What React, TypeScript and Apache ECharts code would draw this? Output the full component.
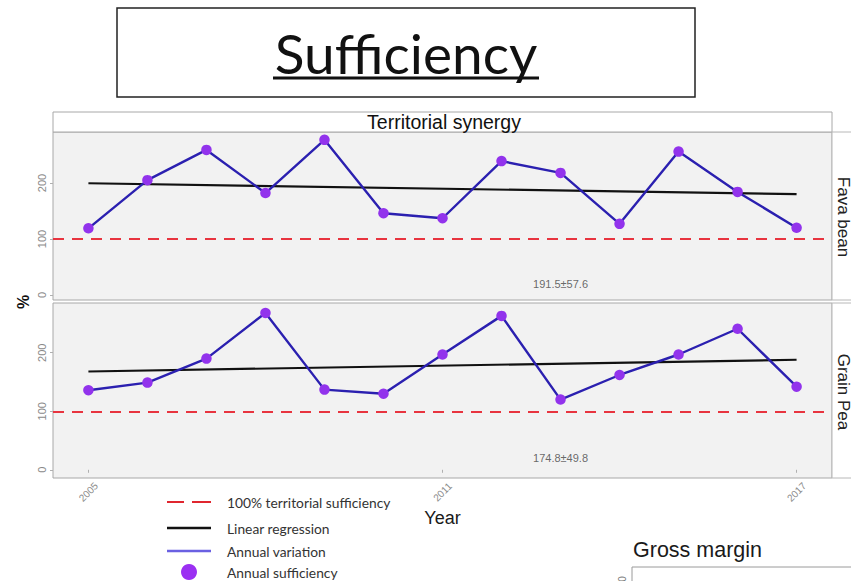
import React, { useEffect, useRef } from "react";
import * as echarts from "echarts";

const years = [2005, 2006, 2007, 2008, 2009, 2010, 2011, 2012, 2013, 2014, 2015, 2016, 2017];
const favaBean = [119, 205, 259, 182, 277, 146, 137, 239, 218, 127, 256, 184, 120];
const grainPea = [136, 149, 190, 268, 137, 130, 197, 263, 120, 162, 197, 241, 142];
const trendYears = [2005, 2017];
const favaTrend = [199.5, 180];
const peaTrend = [168, 188];
const threshold = 100;
const xTickLabels = [2005, 2011, 2017];
const yTickLabels = [0, 100, 200];
const annotationYear = 2013;
const annotationValue = 20;
const favaSummary = "191.5±57.6";
const peaSummary = "174.8±49.8";
const panelNames = ["Fava bean", "Grain Pea"];
const legendLabels = [
  "100% territorial sufficiency",
  "Linear regression",
  "Annual variation",
  "Annual sufficiency",
];

const FONT = "Liberation Sans, Arial, sans-serif";
const LEG_FONT = "Lato, 'Open Sans', sans-serif";

export default function App() {
  const ref = useRef<HTMLDivElement>(null);
  useEffect(() => {
    if (!ref.current) return;
    const chart = echarts.init(ref.current, undefined, { renderer: "svg" });

    const grids = [
      { left: 53, top: 132, width: 779, height: 168 },
      { left: 53, top: 303, width: 779, height: 175 },
    ];
    const yRanges = [
      [-9, 291],
      [-14, 285],
    ];

    const xAxes = grids.map((_, i) => ({
      type: "value",
      gridIndex: i,
      min: 2004.4,
      max: 2017.6,
      splitLine: { show: false },
      axisLine: { show: false },
      axisTick: {
        show: i === 1,
        length: 3,
        lineStyle: { color: "#b0b0b0" },
        customValues: xTickLabels,
      },
      axisLabel: {
        show: i === 1,
        customValues: xTickLabels,
        rotate: 45,
        align: "center",
        verticalAlign: "middle",
        margin: 14,
        fontSize: 10,
        color: "#8a8a8a",
        fontFamily: FONT,
        formatter: (v: number) => String(Math.round(v)),
      },
      name: i === 1 ? "Year" : "",
      nameLocation: "middle",
      nameGap: 31,
      nameTextStyle: { fontSize: 18, color: "#1a1a1a", fontFamily: FONT },
    }));

    const yAxes = grids.map((_, i) => ({
      type: "value",
      gridIndex: i,
      min: yRanges[i][0],
      max: yRanges[i][1],
      splitLine: { show: false },
      axisLine: { show: false },
      axisTick: {
        show: true,
        length: 3,
        lineStyle: { color: "#b0b0b0" },
        customValues: yTickLabels,
      },
      axisLabel: {
        customValues: yTickLabels,
        rotate: 90,
        align: "center",
        verticalAlign: "middle",
        margin: 11,
        fontSize: 11,
        color: "#8a8a8a",
        fontFamily: FONT,
      },
    }));

    const panelData = [
      { values: favaBean, trend: favaTrend, summary: favaSummary },
      { values: grainPea, trend: peaTrend, summary: peaSummary },
    ];

    const series: any[] = [];
    panelData.forEach((p, i) => {
      series.push({
        type: "line",
        xAxisIndex: i,
        yAxisIndex: i,
        data: [],
        markLine: {
          silent: true,
          symbol: "none",
          label: { show: false },
          lineStyle: { color: "#e8343f", width: 2.2, type: [11, 8] },
          data: [{ yAxis: threshold }],
        },
      });
      series.push({
        type: "line",
        xAxisIndex: i,
        yAxisIndex: i,
        data: trendYears.map((y, k) => [y, p.trend[k]]),
        symbol: "none",
        lineStyle: { color: "#111111", width: 2.2 },
      });
      series.push({
        type: "line",
        xAxisIndex: i,
        yAxisIndex: i,
        data: years.map((y, k) => [y, p.values[k]]),
        symbol: "circle",
        symbolSize: 10.5,
        itemStyle: { color: "#9233ec" },
        lineStyle: { color: "#2b20b0", width: 2.4 },
      });
      series.push({
        type: "scatter",
        xAxisIndex: i,
        yAxisIndex: i,
        data: [[annotationYear, annotationValue]],
        symbolSize: 0,
        label: {
          show: true,
          position: "inside",
          formatter: () => p.summary,
          fontSize: 11,
          color: "#444",
          fontFamily: FONT,
        },
      });
    });

    const legendY = [502, 528, 551, 572];
    const graphic: any[] = [
      // title box
      {
        type: "rect",
        shape: { x: 117, y: 8, width: 578, height: 89 },
        style: { fill: "#fff", stroke: "#222", lineWidth: 1.5 },
      },
      {
        type: "text",
        x: 406,
        y: 53,
        style: {
          text: "Sufficiency",
          font: `55px ${LEG_FONT}`,
          fill: "#111",
          align: "center",
          verticalAlign: "middle",
        },
      },
      {
        type: "line",
        shape: { x1: 273, y1: 78, x2: 539, y2: 78 },
        style: { stroke: "#111", lineWidth: 3 },
      },
      // top strip
      {
        type: "rect",
        shape: { x: 53, y: 112, width: 779, height: 20 },
        style: { fill: "#fff", stroke: "#a8a8a8", lineWidth: 1 },
      },
      {
        type: "text",
        x: 444,
        y: 122,
        style: {
          text: "Territorial synergy",
          font: `19.5px ${FONT}`,
          fill: "#111",
          align: "center",
          verticalAlign: "middle",
        },
      },
      // right strips
      {
        type: "rect",
        shape: { x: 832, y: 132, width: 30, height: 168 },
        style: { fill: "#fff", stroke: "#b8b8b8", lineWidth: 1 },
      },
      {
        type: "rect",
        shape: { x: 832, y: 303, width: 30, height: 175 },
        style: { fill: "#fff", stroke: "#b8b8b8", lineWidth: 1 },
      },
      {
        type: "text",
        x: 843,
        y: 217,
        rotation: -Math.PI / 2,
        style: {
          text: panelNames[0],
          font: `17px ${FONT}`,
          fill: "#222",
          align: "center",
          verticalAlign: "middle",
        },
      },
      {
        type: "text",
        x: 843,
        y: 392,
        rotation: -Math.PI / 2,
        style: {
          text: panelNames[1],
          font: `17px ${FONT}`,
          fill: "#222",
          align: "center",
          verticalAlign: "middle",
        },
      },
      // y axis title
      {
        type: "text",
        x: 23,
        y: 302,
        rotation: Math.PI / 2,
        style: {
          text: "%",
          font: `bold 16px ${FONT}`,
          fill: "#111",
          align: "center",
          verticalAlign: "middle",
        },
      },
      // legend
      {
        type: "line",
        shape: { x1: 167, y1: legendY[0], x2: 184, y2: legendY[0] },
        style: { stroke: "#e0262f", lineWidth: 2 },
      },
      {
        type: "line",
        shape: { x1: 192, y1: legendY[0], x2: 211, y2: legendY[0] },
        style: { stroke: "#e0262f", lineWidth: 2 },
      },
      {
        type: "line",
        shape: { x1: 167, y1: legendY[1], x2: 211, y2: legendY[1] },
        style: { stroke: "#111", lineWidth: 2.6 },
      },
      {
        type: "line",
        shape: { x1: 167, y1: legendY[2], x2: 211, y2: legendY[2] },
        style: { stroke: "#6a60e2", lineWidth: 2.4 },
      },
      {
        type: "circle",
        shape: { cx: 189, cy: legendY[3], r: 8 },
        style: { fill: "#9b30f2" },
      },
      ...legendLabels.map((t, k) => ({
        type: "text",
        x: 227,
        y: legendY[k],
        style: {
          text: t,
          font: `13.8px ${LEG_FONT}`,
          fill: "#333",
          align: "left",
          verticalAlign: "middle",
        },
      })),
      // gross margin fragment
      {
        type: "text",
        x: 633,
        y: 550,
        style: {
          text: "Gross margin",
          font: `21.5px ${FONT}`,
          fill: "#1a1a1a",
          align: "left",
          verticalAlign: "middle",
        },
      },
      {
        type: "rect",
        shape: { x: 632, y: 567, width: 240, height: 30 },
        style: { fill: "#fff", stroke: "#9a9a9a", lineWidth: 1 },
      },
      {
        type: "text",
        x: 622,
        y: 579,
        rotation: Math.PI / 2,
        style: {
          text: "0",
          font: `10px ${FONT}`,
          fill: "#777",
          align: "center",
          verticalAlign: "middle",
        },
      },
    ];

    chart.setOption({
      animation: false,
      backgroundColor: "#ffffff",
      grid: grids.map((g) => ({
        ...g,
        show: true,
        backgroundColor: "#f2f2f2",
        borderColor: "#a8a8a8",
        borderWidth: 1,
      })),
      xAxis: xAxes,
      yAxis: yAxes,
      series,
      graphic,
    });

    return () => chart.dispose();
  }, []);

  return (
    <div
      ref={ref}
      style={{ position: "absolute", left: 0, top: 0, width: 851, height: 581 }}
    />
  );
}
